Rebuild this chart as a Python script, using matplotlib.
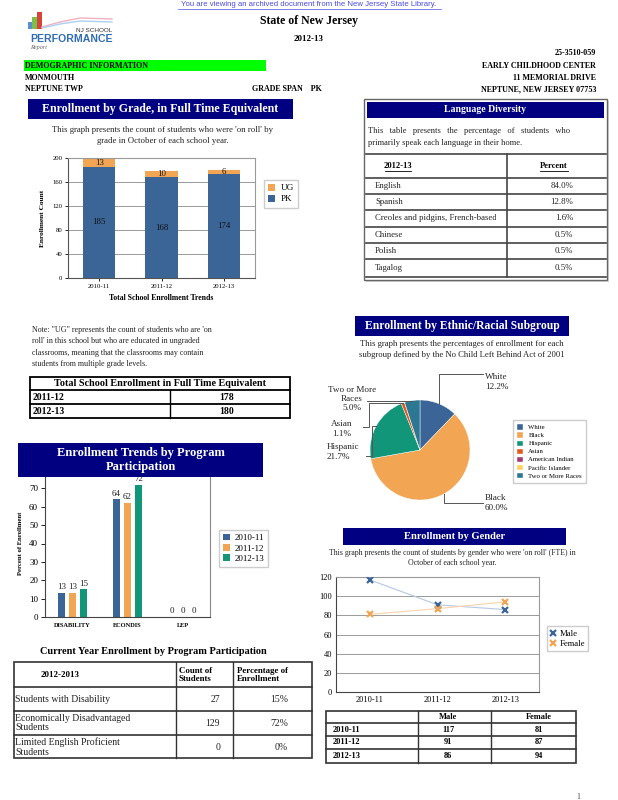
import matplotlib
matplotlib.use('Agg')
import matplotlib.pyplot as plt
from matplotlib.patches import Rectangle
from matplotlib.lines import Line2D
from matplotlib.transforms import Bbox, TransformedBbox
import numpy as np

W, H = 618, 800
SERIF = 'Liberation Serif'
NAVY = '#000080'
BLUE = '#3b6597'
ORANGE = '#f2a553'
GREEN = '#12967a'

# ---- data ----
grade_years = ['2010-11', '2011-12', '2012-13']
pk_counts = [185, 168, 174]
ug_counts = [13, 10, 6]

languages = ['English', 'Spanish', 'Creoles and pidgins, French-based',
             'Chinese', 'Polish', 'Tagalog']
language_pct = [84.0, 12.8, 1.6, 0.5, 0.5, 0.5]

total_years = ['2011-12', '2012-13']
total_fte = [178, 180]

programs = ['DISABILITY', 'ECONDIS', 'LEP']
program_years = ['2010-11', '2011-12', '2012-13']
pct_2010_11 = [13, 64, 0]
pct_2011_12 = [13, 62, 0]
pct_2012_13 = [15, 72, 0]

current_programs = ['Students with Disability',
                    'Economically Disadvantaged\nStudents',
                    'Limited English Proficient\nStudents']
current_counts = [27, 129, 0]
current_share = [15, 72, 0]

ethnic_groups = ['White', 'Black', 'Hispanic', 'Asian', 'American Indian',
                 'Pacific Islander', 'Two or More Races']
ethnic_pct = [12.2, 60.0, 21.7, 1.1, 0.0, 0.0, 5.0]
ethnic_colors = [BLUE, ORANGE, GREEN, '#e2581e', '#a33a72', '#fdd262', '#2c7893']

gender_years = ['2010-11', '2011-12', '2012-13']
male_counts = [117, 91, 86]
female_counts = [81, 87, 94]

fig = plt.figure(figsize=(W / 100, H / 100), dpi=100)
fig.patch.set_facecolor('white')


def fx(x):
    return x / W


def fy(y):
    return 1 - y / H


def text(x, y, s, size=6.3, ha='left', weight='normal', color='black',
         family=SERIF, **kw):
    return fig.text(fx(x), fy(y), s, fontsize=size, ha=ha, va='center',
                    fontweight=weight, color=color, family=family, **kw)


def box(x0, y0, x1, y1, fc='none', ec='none', lw=0.8, z=1):
    fig.add_artist(Rectangle((fx(x0), fy(y1)), (x1 - x0) / W, (y1 - y0) / H,
                             transform=fig.transFigure, facecolor=fc,
                             edgecolor=ec, linewidth=lw, zorder=z))


def path(xs, ys, color='black', lw=1.0):
    fig.add_artist(Line2D([fx(v) for v in xs], [fy(v) for v in ys],
                          color=color, linewidth=lw, zorder=2))


def new_axes(x0, y0, x1, y1):
    return fig.add_axes([fx(x0), fy(y1), (x1 - x0) / W, (y1 - y0) / H])


def header(x0, y0, x1, y1, title, size=8.5):
    box(x0, y0, x1, y1, fc=NAVY, z=1)
    text((x0 + x1) / 2, (y0 + y1) / 2, title, size=size, ha='center',
         weight='bold', color='white', linespacing=1.15)


# ──────────── page header ────────────
text(309, 4, 'You are viewing an archived document from the New Jersey State Library.',
     size=5.6, ha='center', color='#4a4ae0', family='Liberation Sans')
path([178, 441], [8.5, 8.5], color='#4a4ae0', lw=0.5)
text(309, 21, 'State of New Jersey', size=8.5, ha='center', weight='bold')
text(309, 39, '2012-13', size=6.5, ha='center', weight='bold')

# logo
box(28, 22, 32, 29, fc='#5b8fd0')
box(32, 17, 37, 29, fc='#7cc04a')
box(37, 12, 42, 29, fc='#d8443a')
path([42, 60, 80, 112], [27, 22, 18, 19], color='#f0b0c0', lw=1.0)
path([42, 60, 80, 112], [28, 24, 21, 22], color='#a8d0f0', lw=1.0)
text(112, 31, 'NJ SCHOOL', size=4.6, ha='right', family='Liberation Sans', color='#333')
text(30, 39, 'PERFORMANCE', size=7.6, weight='bold', family='Liberation Sans', color='#2f6db5')
text(30, 48, 'Report', size=4.5, style='italic', color='#666')

text(596, 53, '25-3510-059', size=5.8, ha='right', weight='bold')
box(24, 60, 266, 71, fc='#00ff00')
text(25, 66, 'DEMOGRAPHIC INFORMATION', size=5.8, weight='bold')
text(596, 66, 'EARLY CHILDHOOD CENTER', size=5.8, ha='right', weight='bold')
text(25, 78, 'MONMOUTH', size=5.8, weight='bold')
text(596, 78, '11 MEMORIAL DRIVE', size=5.8, ha='right', weight='bold')
text(25, 89, 'NEPTUNE TWP', size=5.8, weight='bold')
text(252, 89, 'GRADE SPAN    PK', size=5.8, weight='bold')
text(596, 89, 'NEPTUNE, NEW JERSEY 07753', size=5.8, ha='right', weight='bold')

# ──────────── Enrollment by grade ────────────
header(28, 99, 293, 119, 'Enrollment by Grade, in Full Time Equivalent', size=8.6)
text(163, 130, "This graph presents the count of students who were 'on roll' by",
     size=6.3, ha='center', color='#222')
text(163, 141, 'grade in October of each school year.', size=6.3, ha='center', color='#222')

ax = new_axes(68, 158, 255, 278)
xg = np.arange(len(grade_years))
ax.bar(xg, pk_counts, 0.52, color=BLUE, label='PK', zorder=2)
ax.bar(xg, ug_counts, 0.52, bottom=pk_counts, color=ORANGE, label='UG', zorder=2)
for i in xg:
    ax.text(i, pk_counts[i] / 2, str(pk_counts[i]), ha='center', va='center',
            fontsize=6.3, family=SERIF, color='#111')
    ax.text(i, pk_counts[i] + ug_counts[i] / 2, str(ug_counts[i]), ha='center',
            va='center', fontsize=6.3, family=SERIF, color='#111')
ax.set_xlim(-0.5, 2.5)
ax.set_ylim(0, 200)
ax.set_yticks(range(0, 201, 40))
ax.set_xticks(xg)
ax.set_xticklabels(grade_years)
ax.tick_params(labelsize=4.8, length=2, width=0.6, pad=2)
for lab in ax.get_xticklabels() + ax.get_yticklabels():
    lab.set_family(SERIF)
ax.grid(axis='y', color='#9a9a9a', lw=0.7, zorder=0)
for s in ('top', 'right'):
    ax.spines[s].set_color('#9a9a9a')
for s in ('left', 'bottom'):
    ax.spines[s].set_color('#555')
ax.set_ylabel('Enrollment Count', fontsize=5.3, fontweight='bold', family=SERIF, labelpad=5)
ax.set_xlabel('Total School Enrollment Trends', fontsize=5.6, fontweight='bold',
              family=SERIF, labelpad=4)
h, l = ax.get_legend_handles_labels()
fig.legend(h[::-1], l[::-1], loc='upper left', bbox_to_anchor=(fx(259), fy(175)),
           prop={'family': SERIF, 'size': 6.6}, fancybox=False, edgecolor='#cccccc',
           handlelength=0.8, handleheight=0.8, handletextpad=0.6, borderpad=0.45,
           labelspacing=0.25, framealpha=1)

# note + total table
note = ['Note: "UG" represents the count of students who are \'on',
        "roll' in this school but who are educated in ungraded",
        'classrooms, meaning that the classrooms may contain',
        'students from multiple grade levels.']
for k, s in enumerate(note):
    text(32, 330 + 11.3 * k, s, size=5.8, color='#222')

box(30, 377, 290, 418, ec='black', lw=1.3)
path([30, 290], [390, 390], lw=1.3)
path([30, 290], [404, 404], lw=1.3)
path([170, 170], [390, 418], lw=1.0)
text(160, 384, 'Total School Enrollment in Full Time Equivalent', size=7.3,
     ha='center', weight='bold')
for k, (yr, v) in enumerate(zip(total_years, total_fte)):
    text(33, 397 + 14 * k, yr, size=7.0, weight='bold')
    text(227, 397 + 14 * k, str(v), size=7.0, ha='center', weight='bold')

# ──────────── Language diversity ────────────
box(366, 101, 609, 282, fc='#d8d8d8', z=0.5)
box(364, 99, 607, 280, fc='white', ec='#666', lw=1.0)
header(367, 102, 604, 118, 'Language Diversity', size=7.0)
text(368, 131, 'This   table   presents   the   percentage   of   students   who',
     size=6.1, color='#222')
text(368, 143, 'primarily speak each language in their home.', size=6.1, color='#222')
path([366, 606], [154, 154], color='#444', lw=1.2)
path([507, 507], [154, 277], color='#444', lw=1.2)
text(398, 166, '2012-13', size=6.1, ha='center', weight='bold')
path([385, 411], [170.5, 170.5], lw=0.6)
text(554, 166, 'Percent', size=6.1, ha='center', weight='bold')
path([540, 568], [170.5, 170.5], lw=0.6)
row_edges = [178, 194, 210, 227, 243, 259, 277]
for yy in row_edges:
    path([366, 606], [yy, yy], color='#444', lw=1.2)
for k, (lang, pct) in enumerate(zip(languages, language_pct)):
    yc = (row_edges[k] + row_edges[k + 1]) / 2
    t = text(375, yc, lang, size=6.3, color='#222')
    t.set_clip_box(TransformedBbox(Bbox([[fx(366), fy(row_edges[k + 1])],
                                         [fx(496), fy(row_edges[k])]]),
                                   fig.transFigure))
    t.set_clip_on(True)
    text(573, yc, f'{pct:.1f}%', size=6.3, ha='right', color='#222')

# ──────────── Ethnic / racial pie ────────────
header(355, 316, 569, 336, 'Enrollment by Ethnic/Racial Subgroup', size=8.4)
text(462, 344, 'This graph presents the percentages of enrollment for each',
     size=6.2, ha='center', color='#222')
text(462, 355, 'subgroup defined by the No Child Left Behind Act of 2001',
     size=6.2, ha='center', color='#222')

cx, cy, r = 420, 450, 50
axp = new_axes(cx - r, cy - r, cx + r, cy + r)
wedges, _ = axp.pie(ethnic_pct, colors=ethnic_colors, startangle=90,
                    counterclock=False, radius=1,
                    wedgeprops={'linewidth': 0.3, 'edgecolor': 'white'})
axp.set_xlim(-1, 1)
axp.set_ylim(-1, 1)
axp.axis('off')

# leader lines start from each slice's mid angle
cum = np.cumsum([0] + ethnic_pct)
def edge_point(i):
    ang = np.deg2rad(90 - 3.6 * (cum[i] + ethnic_pct[i] / 2))
    return cx + r * np.cos(ang), cy - r * np.sin(ang)

LC = '#555'
px, py = edge_point(0)
path([px, px, 483], [py, 374, 374], color=LC, lw=0.7)
text(485, 382, 'White\n12.2%', size=6.6, color='#222', linespacing=1.4)
px, py = edge_point(1)
path([px, px, 483], [py, 503, 503], color=LC, lw=0.7)
text(485, 503, 'Black\n60.0%', size=6.6, color='#222', linespacing=1.4)
px, py = edge_point(2)
path([px, 372, 372, 366], [py, py, 456, 456], color=LC, lw=0.7)
text(327, 452, 'Hispanic\n21.7%', size=6.6, color='#222', linespacing=1.4)
px, py = edge_point(3)
path([px, 369, 369, 363], [py, py, 427, 427], color=LC, lw=0.7)
text(342, 429, 'Asian\n1.1%', size=6.6, ha='center', color='#222', linespacing=1.4)
px, py = edge_point(6)
path([px, 367], [py, py], color=LC, lw=0.7)
text(352, 399, 'Two or More\nRaces\n5.0%', size=6.6, ha='center', color='#222',
     linespacing=1.25)

fig.legend(wedges, ethnic_groups, loc='upper left', bbox_to_anchor=(fx(510), fy(417)),
           prop={'family': SERIF, 'size': 4.9}, fancybox=False, edgecolor='#cccccc',
           handlelength=0.8, handleheight=0.8, handletextpad=0.8, borderpad=0.6,
           labelspacing=0.3, framealpha=1)

# ──────────── Program participation trends ────────────
axb = new_axes(45, 470, 210, 617)
xp = np.arange(len(programs))
bw = 0.13
for off, vals, col, yr in zip([-0.2, 0, 0.2], [pct_2010_11, pct_2011_12, pct_2012_13],
                              [BLUE, ORANGE, GREEN], program_years):
    axb.bar(xp + off, vals, bw, color=col, label=yr)
    for xi, v in zip(xp + off, vals):
        axb.text(xi, v + 1, str(v), ha='center', va='bottom', fontsize=6.5,
                 family=SERIF, color='#222')
axb.set_xlim(-0.5, 2.5)
axb.set_ylim(0, 80)
axb.set_yticks(range(0, 71, 10))
axb.set_xticks(xp)
axb.set_xticklabels(programs, fontweight='bold')
axb.tick_params(axis='y', labelsize=6.5, length=3, width=0.6, pad=2)
axb.tick_params(axis='x', labelsize=4.6, length=0, pad=4)
for lab in axb.get_xticklabels() + axb.get_yticklabels():
    lab.set_family(SERIF)
axb.spines['top'].set_visible(False)
axb.spines['right'].set_color('#888')
axb.spines['left'].set_color('#444')
axb.spines['bottom'].set_color('#444')
axb.set_ylabel('Percent of Enrollment', fontsize=4.8, fontweight='bold',
               family=SERIF, labelpad=4)
fig.legend(*axb.get_legend_handles_labels(), loc='upper left',
           bbox_to_anchor=(fx(214), fy(525)), prop={'family': SERIF, 'size': 6.5},
           fancybox=False, edgecolor='#cccccc', handlelength=0.8, handleheight=0.8,
           handletextpad=0.5, borderpad=0.45, labelspacing=0.2, framealpha=1)
header(18, 443, 263, 477, 'Enrollment Trends by Program\nParticipation', size=9.0)

# ──────────── Current year table ────────────
text(153, 652, 'Current Year Enrollment by Program Participation', size=7.4,
     ha='center', weight='bold')
box(14, 662, 312, 758, ec='#333', lw=1.2)
for yy in (687, 711, 735):
    path([14, 312], [yy, yy], color='#333', lw=1.2)
path([176, 176], [662, 758], color='#333', lw=1.0)
path([233, 233], [662, 758], color='#333', lw=1.0)
text(60, 675, '2012-2013', size=6.4, ha='center', weight='bold')
text(179, 675, 'Count of\nStudents', size=6.4, weight='bold', linespacing=1.15)
text(237, 675, 'Percentage of\nEnrollment', size=6.4, weight='bold', linespacing=1.15)
row_mid = [699, 723, 747]
for k in range(len(current_programs)):
    text(15, row_mid[k], current_programs[k], size=7.0, color='#222', linespacing=1.1)
    text(220, row_mid[k], str(current_counts[k]), size=7.0, ha='right', color='#222')
    text(288, row_mid[k], f'{current_share[k]}%', size=7.0, ha='right', color='#222')

# ──────────── Enrollment by gender ────────────
header(343, 528, 566, 545, 'Enrollment by Gender', size=7.6)
text(452, 553, "This graph presents the count of students by gender who were 'on roll' (FTE) in",
     size=5.6, ha='center', color='#222')
text(452, 563, 'October of each school year.', size=5.6, ha='center', color='#222')

axg = new_axes(336, 577, 539, 692)
xq = np.arange(len(gender_years))
axg.plot(xq, male_counts, color='#b5c8e2', lw=0.8, zorder=2)
axg.plot(xq, female_counts, color='#f9d3aa', lw=0.8, zorder=2)
axg.plot(xq, male_counts, ls='none', marker='x', ms=4.5, mew=1.6, color=BLUE,
         label='Male', zorder=3)
axg.plot(xq, female_counts, ls='none', marker='x', ms=4.5, mew=1.6, color=ORANGE,
         label='Female', zorder=3)
axg.set_xlim(-0.5, 2.5)
axg.set_ylim(0, 120)
axg.set_yticks(range(0, 121, 20))
axg.set_xticks(xq)
axg.set_xticklabels(gender_years)
axg.tick_params(labelsize=6.0, length=0, pad=3)
for lab in axg.get_xticklabels() + axg.get_yticklabels():
    lab.set_family(SERIF)
axg.grid(axis='y', color='#9a9a9a', lw=0.7, zorder=0)
for s in ('top', 'right'):
    axg.spines[s].set_color('#9a9a9a')
for s in ('left', 'bottom'):
    axg.spines[s].set_color('#444')
fig.legend(*axg.get_legend_handles_labels(), loc='upper left',
           bbox_to_anchor=(fx(543), fy(622)), prop={'family': SERIF, 'size': 6.2},
           fancybox=False, edgecolor='#cccccc', handlelength=0.6, handletextpad=0.4,
           borderpad=0.4, labelspacing=0.25, framealpha=1)

box(326, 711, 576, 763, ec='#333', lw=1.2)
for yy in (723, 736, 749):
    path([326, 576], [yy, yy], color='#333', lw=1.2)
path([418, 418], [711, 763], color='#333', lw=1.0)
path([491, 491], [711, 763], color='#333', lw=1.0)
text(448, 717, 'Male', size=6.0, ha='center', weight='bold')
text(539, 717, 'Female', size=6.0, ha='center', weight='bold')
for k, yr in enumerate(gender_years):
    yc = 729.5 + 13 * k
    text(333, yc, yr, size=6.0, weight='bold')
    text(448, yc, str(male_counts[k]), size=6.0, ha='center', weight='bold')
    text(539, yc, str(female_counts[k]), size=6.0, ha='center', weight='bold')

text(578, 797, '1', size=5.5, ha='center', color='#444')

fig.savefig('out.png', dpi=100, facecolor='white')
